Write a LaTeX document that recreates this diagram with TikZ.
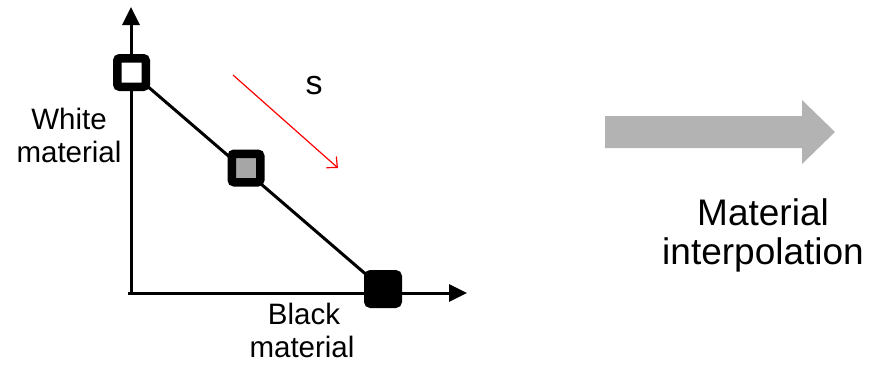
\documentclass[tikz,border=0pt]{standalone}
\usepackage{fontspec}
\setmainfont{Liberation Sans}
\usetikzlibrary{arrows.meta,backgrounds}
\definecolor{midgray}{HTML}{A6A6A6}
\definecolor{arrowgray}{HTML}{B3B3B3}
\tikzset{
  axis/.style={line width=3pt,-{Triangle[length=18pt,width=17pt]}},
  marker/.style={draw=black,line width=8.5pt,rounded corners=2.5pt,minimum size=28.5pt,inner sep=0pt},
  label/.style={font=\fontsize{29.5}{35}\selectfont,anchor=base,inner sep=0pt},
  biglabel/.style={font=\fontsize{37}{43}\selectfont,anchor=base,inner sep=0pt},
}
\begin{document}
\begin{tikzpicture}[x=1pt,y=-1pt]
\useasboundingbox (0,0) rectangle (869,368);

% axes corner and arrow ends
\coordinate (o) at (131,293);
\coordinate (ytip) at (131,7);
\coordinate (xstart) at (128,293);
\coordinate (xtip) at (467,293);

% material markers along the interpolation line
\node[marker,fill=white] (w) at (131.5,72.5) {};
\node[marker,fill=midgray] (g) at (246,168) {};
\node[marker,fill=black,minimum size=29.5pt] (b) at (383,289) {};

\begin{pgfonlayer}{background}
  \draw[axis] (131,294.5) -- (ytip);
  \draw[axis] (xstart) -- (xtip);
  \draw[line width=3pt] (w.center) -- (b.center);
\end{pgfonlayer}

% direction of the design variable
\coordinate (r1) at (233,75);
\coordinate (r2) at (338,168);
\draw[red,line width=1.2pt,-{Straight Barb[length=8pt,width=15pt]}] (r1) -- (r2);
\node[font=\fontsize{34}{40}\selectfont,inner sep=0pt] (s) at (314,86) {s};

% axis labels
\node[label] (white1) at (69,129) {White};
\node[label] (white2) at (69,162) {material};
\node[label] (black1) at (304,324) {Black};
\node[label] (black2) at (302,357) {material};

% block arrow and its caption
\fill[arrowgray] (605,116) -- (802,116) -- (802,100) -- (835,132)
  -- (802,164) -- (802,148) -- (605,148) -- cycle;
\node[biglabel] (mat1) at (763,225) {Material};
\node[biglabel] (mat2) at (763,264) {interpolation};
\end{tikzpicture}
\end{document}
